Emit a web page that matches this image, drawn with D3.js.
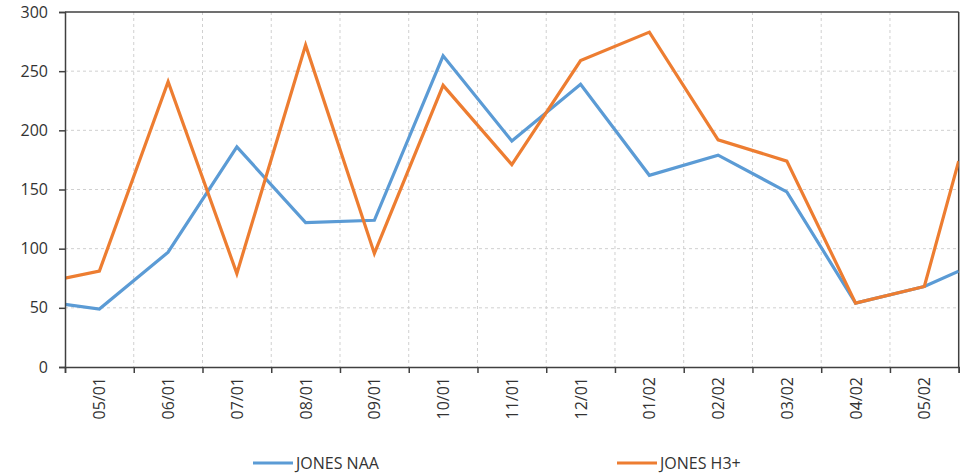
<!DOCTYPE html>
<html>
<head>
<meta charset="utf-8">
<script src="https://cdn.jsdelivr.net/npm/d3@7"></script>
<style>
  html, body { margin: 0; padding: 0; background: #fff; }
  svg { display: block; }
  text { font-family: "Open Sans", "Liberation Sans", sans-serif; fill: #333; }
</style>
</head>
<body>
<svg id="chart" width="965" height="473"></svg>
<script>
// ---- data ----
const monthLabels = ["05/01","06/01","07/01","08/01","09/01","10/01","11/01","12/01","01/02","02/02","03/02","04/02","05/02"];
// month positions of the samples (first/last are at the clipped edges of the chart)
const samplePositions = [-0.5, 0, 1, 2, 3, 4, 5, 6, 7, 8, 9, 10, 11, 12, 12.5];
const jonesNAA = [53, 49, 97, 186, 122, 124, 263, 191, 239, 162, 179, 148, 54, 68, 81];
const jonesH3 = [75, 81, 241, 79, 272, 96, 238, 171, 259, 283, 192, 174, 54, 68, 174];
const yTicks = [0, 50, 100, 150, 200, 250, 300];
const seriesNames = ["JONES NAA", "JONES H3+"];
const seriesColors = ["#5B9BD5", "#ED7D31"];

// ---- layout ----
const svg = d3.select("#chart");
const mLeft = 65, mRight = 958.7, mTop = 12, mBottom = 367;
const FONT = "'Open Sans', 'Liberation Sans', sans-serif";

const x = d3.scaleLinear().domain([-0.5, monthLabels.length - 0.5]).range([mLeft, mRight]);
const y = d3.scaleLinear().domain([0, 300]).range([mBottom, mTop]);

const boundaries = d3.range(monthLabels.length + 1).map(i => i - 0.5);

// grid
const grid = svg.append("g");
grid.selectAll(".vg").data(boundaries.slice(1, -1)).join("line")
  .attr("x1", d => x(d)).attr("x2", d => x(d))
  .attr("y1", mTop).attr("y2", mBottom)
  .attr("stroke", "#d0d0d0").attr("stroke-width", 1).attr("stroke-dasharray", "3,3");
grid.selectAll(".hg").data(yTicks.slice(1, -1)).join("line")
  .attr("x1", mLeft).attr("x2", mRight)
  .attr("y1", d => y(d)).attr("y2", d => y(d))
  .attr("stroke", "#d0d0d0").attr("stroke-width", 1).attr("stroke-dasharray", "3,3");

// frame top/right
svg.append("line").attr("x1", mLeft).attr("x2", mRight).attr("y1", y(300)).attr("y2", y(300))
  .attr("stroke", "#404040").attr("stroke-width", 1.5);
svg.append("line").attr("x1", mRight).attr("x2", mRight).attr("y1", mTop).attr("y2", mBottom)
  .attr("stroke", "#404040").attr("stroke-width", 1.5);

// clip
svg.append("clipPath").attr("id", "clip").append("rect")
  .attr("x", mLeft).attr("y", 0).attr("width", mRight - mLeft).attr("height", 473);

// lines
const line = d3.line().x((d, i) => x(samplePositions[i])).y(d => y(d));
const lineG = svg.append("g").attr("clip-path", "url(#clip)");
[jonesNAA, jonesH3].forEach((s, k) => {
  lineG.append("path").datum(s)
    .attr("fill", "none").attr("stroke", seriesColors[k])
    .attr("stroke-width", 3.2).attr("stroke-linejoin", "miter")
    .attr("d", line);
});

// y axis
const yAxis = d3.axisLeft(y).tickValues(yTicks).tickSize(6).tickPadding(11);
const yg = svg.append("g").attr("transform", `translate(${mLeft},0)`).call(yAxis);
yg.select(".domain").attr("stroke", "#404040").attr("stroke-width", 1.5);
yg.selectAll(".tick line").attr("stroke", "#404040").attr("stroke-width", 1.5);
yg.selectAll("text").attr("font-size", 16).style("fill", "#333").style("font-family", FONT);

// x axis: boundary ticks
const xAxis = d3.axisBottom(x).tickValues(boundaries).tickSize(6).tickFormat("");
const xg = svg.append("g").attr("transform", `translate(0,${mBottom})`).call(xAxis);
xg.select(".domain").attr("stroke", "#404040").attr("stroke-width", 1.5);
xg.selectAll(".tick line").attr("stroke", "#404040").attr("stroke-width", 1.5);

// month labels
svg.append("g").selectAll("text").data(monthLabels).join("text")
  .attr("transform", (d, i) => `translate(${x(i) + 6},${mBottom + 10}) rotate(-90)`)
  .attr("text-anchor", "end")
  .attr("font-size", 16)
  .text(d => d);

// legend
const legendX = [253, 617];
const lg = svg.append("g");
seriesNames.forEach((n, k) => {
  lg.append("line").attr("x1", legendX[k]).attr("x2", legendX[k] + 40)
    .attr("y1", 463).attr("y2", 463)
    .attr("stroke", seriesColors[k]).attr("stroke-width", 3.2);
  lg.append("text").attr("x", legendX[k] + 43).attr("y", 469)
    .attr("font-size", 16).text(n);
});
</script>
</body>
</html>
